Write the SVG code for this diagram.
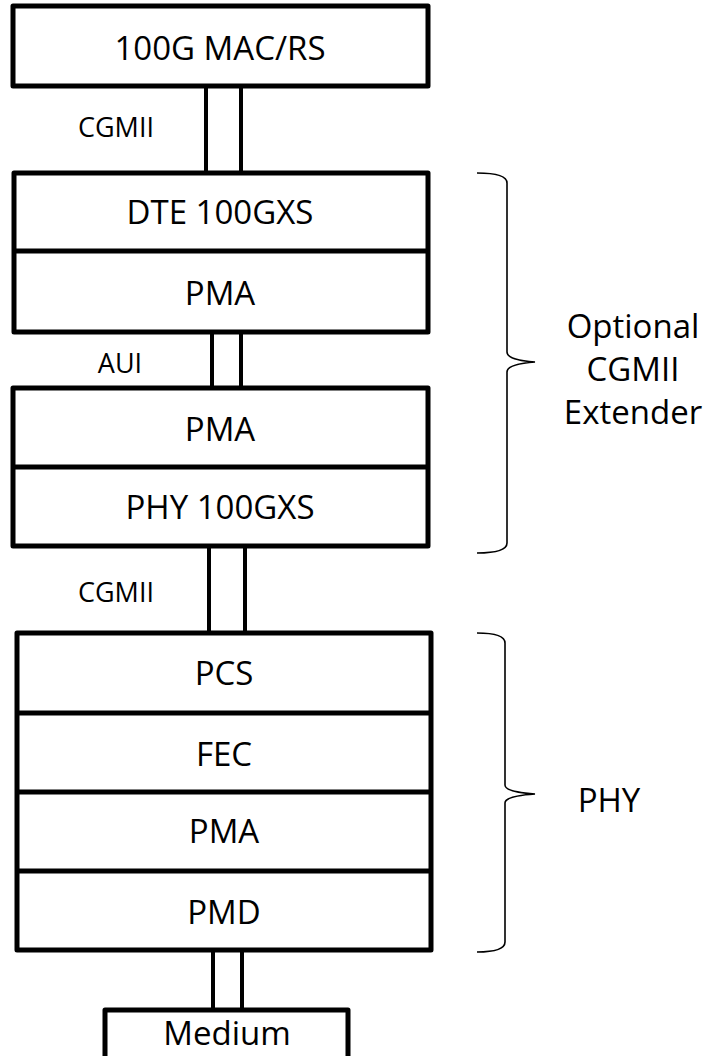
<svg xmlns="http://www.w3.org/2000/svg" width="708" height="1056" viewBox="0 0 708 1056">
<style>
.box{fill:#fff;stroke:#000;stroke-width:5;stroke-linejoin:round}
.div{stroke:#000;stroke-width:5}
.conn{stroke:#000;stroke-width:4}
.brace{fill:none;stroke:#000;stroke-width:1.6}
.lbl{font-family:"Open Sans","Noto Sans",sans-serif;font-size:33px;fill:#000;text-anchor:middle}
.sm{font-family:"Open Sans","Noto Sans",sans-serif;font-size:27px;fill:#000;text-anchor:middle}
</style>
<rect width="708" height="1056" fill="#fff"/>
<g id="connectors">
<line class="conn" x1="206" y1="86" x2="206" y2="173"/>
<line class="conn" x1="241" y1="86" x2="241" y2="173"/>
<line class="conn" x1="212" y1="332" x2="212" y2="388"/>
<line class="conn" x1="241" y1="332" x2="241" y2="388"/>
<line class="conn" x1="209" y1="547" x2="209" y2="633"/>
<line class="conn" x1="245" y1="547" x2="245" y2="633"/>
<line class="conn" x1="213" y1="950" x2="213" y2="1010"/>
<line class="conn" x1="242" y1="950" x2="242" y2="1010"/>
</g>
<g id="mac">
<rect class="box" x="13" y="6" width="415" height="80"/>
<text class="lbl" x="220" y="60">100G MAC/RS</text>
</g>
<g id="dte">
<rect class="box" x="14" y="173" width="414" height="159"/>
<line class="div" x1="14" y1="251" x2="428" y2="251"/>
<text class="lbl" x="220" y="224">DTE 100GXS</text>
<text class="lbl" x="220" y="305">PMA</text>
</g>
<g id="phyxs">
<rect class="box" x="13" y="388" width="415" height="158"/>
<line class="div" x1="13" y1="467" x2="428" y2="467"/>
<text class="lbl" x="220" y="441">PMA</text>
<text class="lbl" x="220" y="519">PHY 100GXS</text>
</g>
<g id="phy">
<rect class="box" x="17" y="633" width="414" height="317"/>
<line class="div" x1="17" y1="713" x2="431" y2="713"/>
<line class="div" x1="17" y1="792" x2="431" y2="792"/>
<line class="div" x1="17" y1="871" x2="431" y2="871"/>
<text class="lbl" x="224" y="685">PCS</text>
<text class="lbl" x="224" y="766">FEC</text>
<text class="lbl" x="224" y="843">PMA</text>
<text class="lbl" x="224" y="924">PMD</text>
</g>
<g id="medium">
<rect class="box" x="105" y="1010" width="243" height="60"/>
<text class="lbl" x="227" y="1045">Medium</text>
</g>
<g id="labels">
<text class="sm" x="116" y="137">CGMII</text>
<text class="sm" x="120" y="373">AUI</text>
<text class="sm" x="116" y="602">CGMII</text>
</g>
<g id="extender-brace">
<path class="brace" d="M477,173 Q507,173 507,183 L507,352 Q507,360 535,362 Q507,364 507,372 L507,543 Q507,553 477,553"/>
<text class="lbl" x="633" y="338">Optional</text>
<text class="lbl" x="633" y="381">CGMII</text>
<text class="lbl" x="633" y="424">Extender</text>
</g>
<g id="phy-brace">
<path class="brace" d="M477,633 Q505,633 505,643 L505,785 Q505,792 535,794 Q505,796 505,803 L505,942 Q505,952 477,952"/>
<text class="lbl" x="609" y="812">PHY</text>
</g>
</svg>
